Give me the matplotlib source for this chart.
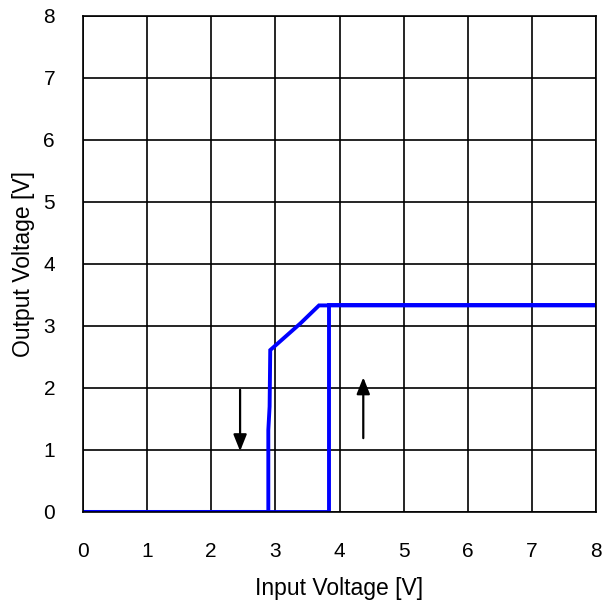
import matplotlib
matplotlib.use('Agg')
import matplotlib.pyplot as plt

plt.rcParams['font.family'] = ['Liberation Sans', 'DejaVu Sans']

# Branche montante (hystérésis)
rise_x = [0, 3.83, 3.83, 8]
rise_y = [0, 0, 3.33, 3.33]

# Branche descendante
fall_x = [8, 3.68, 3.39, 2.92, 2.91, 2.89, 2.89, 0]
fall_y = [3.33, 3.33, 3.04, 2.61, 1.70, 1.32, 0, 0]

# Flèches (début -> fin)
arrow_down = [(2.45, 1.97), (2.45, 0.98)]
arrow_up = [(4.37, 1.19), (4.37, 2.17)]

ticks = list(range(0, 9))

fig = plt.figure(figsize=(6.14, 6.08), dpi=100)
ax = fig.add_axes([0.135, 0.158, 0.836, 0.816])

ax.plot(fall_x, fall_y, color='#0000ff', linewidth=2.8, solid_joinstyle='miter')
ax.plot(rise_x, rise_y, color='#0000ff', linewidth=2.8, solid_joinstyle='miter')

for (x0, y0), (x1, y1) in [arrow_down, arrow_up]:
    ax.annotate('', xy=(x1, y1), xytext=(x0, y0),
                arrowprops=dict(arrowstyle='-|>,head_width=0.4,head_length=1.0',
                                color='black', lw=1.6, shrinkA=0, shrinkB=0))

ax.set_xlim(0, 8)
ax.set_ylim(0, 8)
ax.set_xticks(ticks)
ax.set_yticks(ticks)
ax.grid(True, color='black', linewidth=1.2)
for s in ax.spines.values():
    s.set_linewidth(1.2)
ax.tick_params(length=0, labelsize=15)
ax.tick_params(axis='x', pad=22)
ax.tick_params(axis='y', pad=20)
ax.set_xlabel('Input Voltage [V]', fontsize=16.5, labelpad=11)
ax.set_ylabel('Output Voltage [V]', fontsize=16.5, labelpad=6)

plt.savefig('out.png', dpi=100)
